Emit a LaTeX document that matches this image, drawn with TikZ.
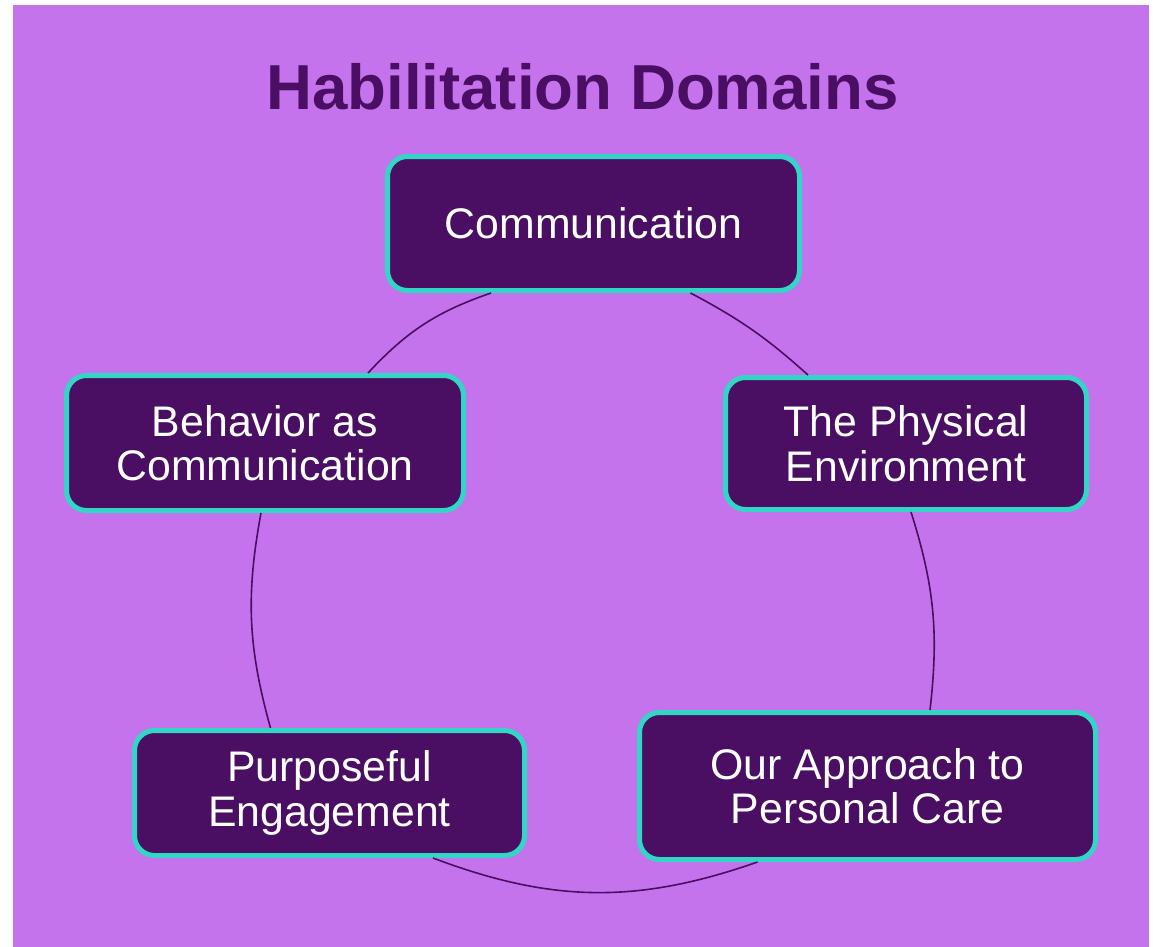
\documentclass[tikz,border=0pt]{standalone}
\usepackage{fontspec}
\setmainfont{Liberation Sans}
\usetikzlibrary{calc}
\definecolor{bgpurple}{HTML}{C473EC}
\definecolor{darkpurple}{HTML}{4A0E62}
\definecolor{tealborder}{HTML}{33D6C6}
\tikzset{
  domainbox/.style={draw=tealborder, line width=5pt, fill=darkpurple, rounded corners=20pt,
    text=white, align=center, font=\fontsize{42.8}{44.5}\selectfont, inner sep=0pt},
  linkline/.style={draw=darkpurple, line width=1.6pt}
}
\begin{document}
\begin{tikzpicture}[x=1pt,y=-1pt]
\useasboundingbox[fill=white] (0,0) rectangle (1153,947);
\fill[bgpurple] (13,5) rectangle (1149,947);
\node[anchor=base, text=darkpurple, font=\bfseries\fontsize{63.6}{70}\selectfont] (title) at (582.5,110) {Habilitation Domains};
\node[domainbox, minimum width=412pt, minimum height=134pt] (comm) at (593.5,223.5) {Communication};
\node[domainbox, minimum width=397pt, minimum height=135pt] (beh) at (265,443) {Behavior as\\Communication};
\node[domainbox, minimum width=361pt, minimum height=132pt] (phys) at (906,443.5) {The Physical\\Environment};
\node[domainbox, minimum width=390pt, minimum height=125pt] (purp) at (329.5,793) {Purposeful\\Engagement};
\node[domainbox, minimum width=456pt, minimum height=147pt] (appr) at (867.5,786) {Our Approach to\\Personal Care};
\draw[linkline] ($(comm.south)+(97,0)$) to[bend left=7] ($(phys.north)+(-98,0)$);
\draw[linkline] ($(phys.south)+(5,0)$) to[bend left=12] ($(appr.north)+(62.5,0)$);
\draw[linkline] ($(appr.south)+(-110,0)$) to[bend left=20] ($(purp.south)+(103.5,0)$);
\draw[linkline] ($(purp.north)+(-59,0)$) to[bend left=13] ($(beh.south)+(-4,0)$);
\draw[linkline] ($(beh.north)+(103,0)$) to[bend left=14] ($(comm.south)+(-102.5,0)$);
\end{tikzpicture}
\end{document}
